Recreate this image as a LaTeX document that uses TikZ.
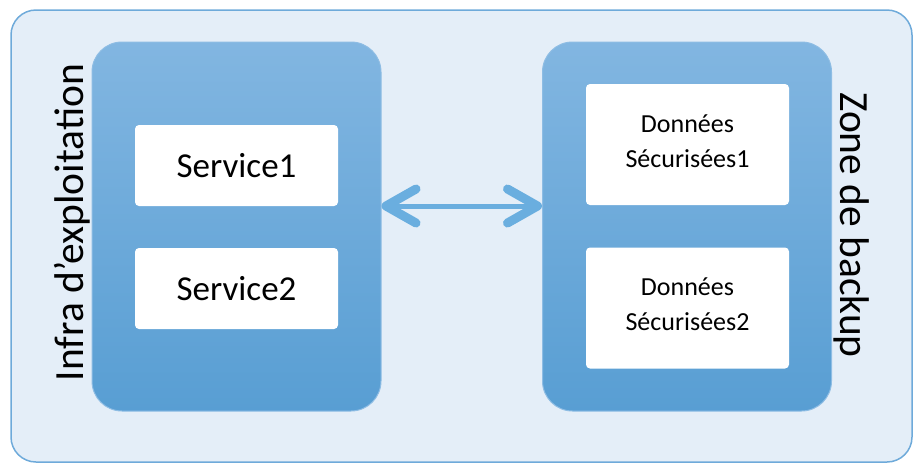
\documentclass[tikz,border=0pt]{standalone}
\usepackage{fontspec}
\setmainfont{Carlito}
\usepackage{xcolor}
\usetikzlibrary{arrows.meta}
\usetikzlibrary{positioning}

\definecolor{frameblue}{RGB}{110,170,218}
\definecolor{framefill}{RGB}{228,238,248}
\definecolor{coltop}{RGB}{130,182,225}
\definecolor{colbottom}{RGB}{88,158,211}
\definecolor{arrowblue}{RGB}{106,174,223}

\begin{document}
\begin{tikzpicture}[x=1pt, y=-1pt,
			zone/.style={
					rectangle,
					draw=coltop!90!white,
					line width=1pt,
					top color=coltop,
					bottom color=colbottom,
					rounded corners=30pt,
					minimum width=289pt,
					minimum height=369pt
				},
			item/.style={
					rectangle,
					fill=white,
					rounded corners=4pt,
					minimum width=203pt,
					align=center
				},
			title/.style={font=\fontsize{41.5}{45}\selectfont, inner sep=0pt},
			line/.style={draw=arrowblue, line width=5pt,
					{Straight Barb[length=30pt, width=34pt, line width=9pt, round]}-{Straight Barb[length=30pt, width=34pt, line width=9pt, round]}}
		]
		\useasboundingbox (0,0) rectangle (922,472);
		% Frame
		\node [draw=frameblue, line width=1.5pt, fill=framefill, rounded corners=25pt,
			minimum width=901pt, minimum height=452pt] (frame) at (461.5,236) {};
		% Place nodes
		\node [zone] (infra) at (236.5,226.5) {};
		\node [zone] (backup) at (687,226.5) {};
		\node [item, minimum height=81pt, font=\fontsize{35}{40}\selectfont] (svc1) at (236.5,165.5) {Service1};
		\node [item, minimum height=81pt, font=\fontsize{35}{40}\selectfont] (svc2) at (236.5,288.5) {Service2};
		\node [item, minimum height=121pt, text height=55pt, text depth=10pt, font=\fontsize{26}{35}\selectfont] (data1) at (687.5,144.5) {Données\\Sécurisées1};
		\node [item, minimum height=121pt, text height=55pt, text depth=10pt, font=\fontsize{26}{35}\selectfont] (data2) at (687.5,308) {Données\\Sécurisées2};
		\node [title, rotate=90] (infralabel) at (72,222.5) {Infra d’exploitation};
		\node [title, rotate=-90] (backuplabel) at (852,225) {Zone de backup};
		% Draw edges
		\path [line] ([yshift=20.5pt]infra.east) -- ([yshift=20.5pt]backup.west);
	\end{tikzpicture}
\end{document}
